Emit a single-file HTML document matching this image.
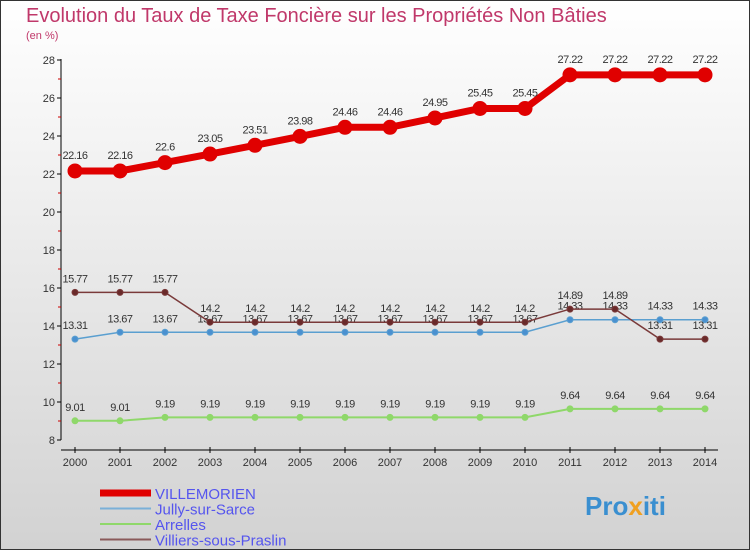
<!DOCTYPE html>
<html><head><meta charset="utf-8"><style>
body{margin:0;width:750px;height:550px;overflow:hidden;font-family:"Liberation Sans",sans-serif}
</style></head><body>
<svg id="c" width="750" height="550" xmlns="http://www.w3.org/2000/svg">
<defs><linearGradient id="bg" x1="0" y1="0" x2="0" y2="1"><stop offset="0" stop-color="#ffffff"/><stop offset="1" stop-color="#d2d2d2"/></linearGradient></defs>
<rect x="0.5" y="0.5" width="749" height="549" fill="url(#bg)" stroke="#333"/>
<text x="26" y="22" font-size="20" fill="#c0386a">Evolution du Taux de Taxe Foncière sur les Propriétés Non Bâties</text>
<text x="26" y="39" font-size="11" fill="#c0386a">(en %)</text>
<g id="axes"></g><g id="series"></g><g id="legend"></g>
<text x="585" y="515" font-size="26" font-weight="bold" fill="#3a8fd0">Pro<tspan fill="#f0a020">x</tspan>iti</text>
</svg>
<script>
const years=[2000,2001,2002,2003,2004,2005,2006,2007,2008,2009,2010,2011,2012,2013,2014];
const villemorien=[22.16,22.16,22.6,23.05,23.51,23.98,24.46,24.46,24.95,25.45,25.45,27.22,27.22,27.22,27.22];
const jully=[13.31,13.67,13.67,13.67,13.67,13.67,13.67,13.67,13.67,13.67,13.67,14.33,14.33,14.33,14.33];
const arrelles=[9.01,9.01,9.19,9.19,9.19,9.19,9.19,9.19,9.19,9.19,9.19,9.64,9.64,9.64,9.64];
const villiers=[15.77,15.77,15.77,14.2,14.2,14.2,14.2,14.2,14.2,14.2,14.2,14.89,14.89,13.31,13.31];
const yTicks=[8,10,12,14,16,18,20,22,24,26,28];
const NS="http://www.w3.org/2000/svg";
const X=i=>75+i*45, Y=v=>440-(v-8)*19;
function mk(p,t,a){const e=document.createElementNS(NS,t);for(const k in a)e.setAttribute(k,a[k]);p.appendChild(e);return e;}
const ax=document.getElementById('axes');
const yl=mk(ax,'line',{x1:61,y1:59,x2:61,y2:440,stroke:'#000'});


const xl=mk(ax,'line',{x1:61,y1:450,x2:718,y2:450,stroke:'#000'});


yTicks.forEach(v=>{
 mk(ax,'line',{x1:57,y1:Y(v),x2:61,y2:Y(v),stroke:'#000'});
 if(v<28)mk(ax,'line',{x1:58,y1:Y(v+1),x2:61,y2:Y(v+1),stroke:'#c00'});
 const t=mk(ax,'text',{x:55,y:Y(v)+4,'font-size':11,'text-anchor':'end',fill:'#333'});
 t.textContent=v;
 
 
});
years.forEach((y,i)=>{
 mk(ax,'line',{x1:X(i),y1:447,x2:X(i),y2:453,stroke:'#000'});
 const t=mk(ax,'text',{x:X(i),y:466,'font-size':11,'text-anchor':'middle',fill:'#333'});
 t.textContent=y;
 
 
});
const sg=document.getElementById('series');
function draw(vals,color,w,r,fill,name,dy){
 const pl=mk(sg,'polyline',{points:vals.map((v,i)=>X(i)+','+Y(v)).join(' '),fill:'none',stroke:color,'stroke-width':w});
 
 
 vals.forEach((v,i)=>{
  const c=mk(sg,'circle',{cx:X(i),cy:Y(v),r:r,fill:fill,stroke:color});
  
  
  const t=mk(sg,'text',{x:X(i),y:Y(v)+dy,'font-size':11,'text-anchor':'middle',fill:'#333','letter-spacing':'-0.5'});
  t.textContent=v;
  
  
 });
}
draw(arrelles,'#8fd86a',2,3,'#8fd86a','arrelles',-10);
draw(jully,'#5a9fd0',1.5,3,'#4a90d0','jully',-10);
draw(villiers,'#7a3a3a',1.5,3,'#6a2a2a','villiers',-10);
draw(villemorien,'#e00000',7,7,'#e00000','villemorien',-12);
const lg=document.getElementById('legend');
[['VILLEMORIEN','#e00000',7],['Jully-sur-Sarce','#7ab0d8',2],['Arrelles','#8fd86a',2],['Villiers-sous-Praslin','#8a5a5a',2]].forEach((e,i)=>{
 const y=493+i*15.5;
 const l=mk(lg,'line',{x1:100,y1:y,x2:151,y2:y,stroke:e[1],'stroke-width':e[2]});
 
 
 const t=mk(lg,'text',{x:155,y:y+6,'font-size':15,fill:'#5555ee'});
 t.textContent=e[0];
 
 
});
</script>
</body></html>
